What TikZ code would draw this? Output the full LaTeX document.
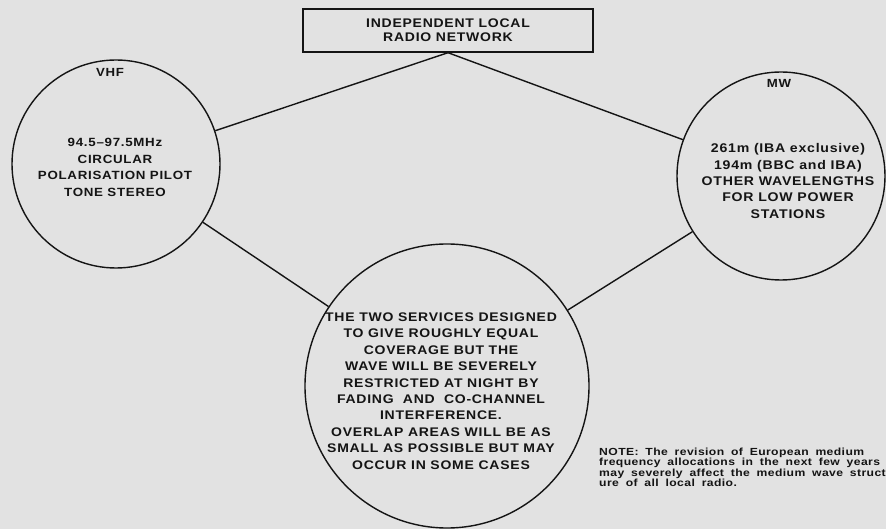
\documentclass[tikz,border=0pt]{standalone}
\usepackage{fontspec}
\setmainfont{Liberation Sans}
\newfontfamily\lblfont{Liberation Sans Bold}[FakeStretch=1.12,LetterSpace=6]
\newfontfamily\notefont{Liberation Sans Bold}[FakeStretch=1.18,LetterSpace=4,WordSpace=1.8]
\definecolor{paper}{RGB}{226,226,226}
\definecolor{ink}{RGB}{20,20,20}
\tikzset{
  bubble/.style={circle,draw=ink,line width=1.4pt,inner sep=0pt},
  body/.style={align=center,inner sep=0pt,text=ink,font=\lblfont\fontsize{#1}{16.4}\selectfont},
  body/.default=12.5,
  tag/.style={inner sep=0pt,text=ink,font=\lblfont\fontsize{11.8}{13}\selectfont},
  titlebox/.style={draw=ink,line width=1.4pt,align=center,inner sep=0pt,text=ink,
    minimum width=290pt,minimum height=43pt,font=\lblfont\fontsize{12.5}{14}\selectfont},
  link/.style={draw=ink,line width=1.4pt},
  notetext/.style={align=left,inner sep=0pt,text=ink,
    font=\notefont\fontsize{10.3}{9.3}\selectfont}
}
\begin{document}
\begin{tikzpicture}[x=1pt,y=-1pt]
\useasboundingbox (0,0) rectangle (886,529);
\fill[paper] (0,0) rectangle (886,529);
\clip (0,0) rectangle (886,529);

\node[titlebox] (net) at (448,30.5) {INDEPENDENT LOCAL\\RADIO NETWORK};

\node[bubble,minimum size=208pt] (vhf) at (116,164) {};
\node[bubble,minimum size=208pt] (mw) at (781,176) {};
\node[bubble,minimum size=284pt] (both) at (447,386) {};

\draw[link] (net.south) -- (vhf);
\draw[link] (net.south) -- (mw);
\draw[link] (vhf) -- (both);
\draw[link] (mw) -- (both);

\node[tag] (vhftag) at (110,72) {VHF};
\node[tag] (mwtag) at (779,83) {MW};

\node[body=11.9] (vhftext) at (115,167.5) {94.5–97.5MHz\\CIRCULAR\\POLARISATION PILOT\\TONE STEREO};
\node[body=12.6] (mwtext) at (788,181) {261m (IBA exclusive)\\194m (BBC and IBA)\\OTHER WAVELENGTHS\\FOR LOW POWER\\STATIONS};
\node[body] (bothtext) at (441,391) {THE TWO SERVICES DESIGNED\\TO GIVE ROUGHLY EQUAL\\COVERAGE BUT THE\\WAVE WILL BE SEVERELY\\RESTRICTED AT NIGHT BY\\FADING\ \ AND\ \ CO-CHANNEL\\INTERFERENCE.\\OVERLAP AREAS WILL BE AS\\SMALL AS POSSIBLE BUT MAY\\OCCUR IN SOME CASES};

\node[notetext,anchor=north west] (note) at (599,447.5) {NOTE: The revision of European medium\\frequency allocations in the next few years\\may severely affect the medium wave struct-\\ure of all local radio.};
\end{tikzpicture}
\end{document}
